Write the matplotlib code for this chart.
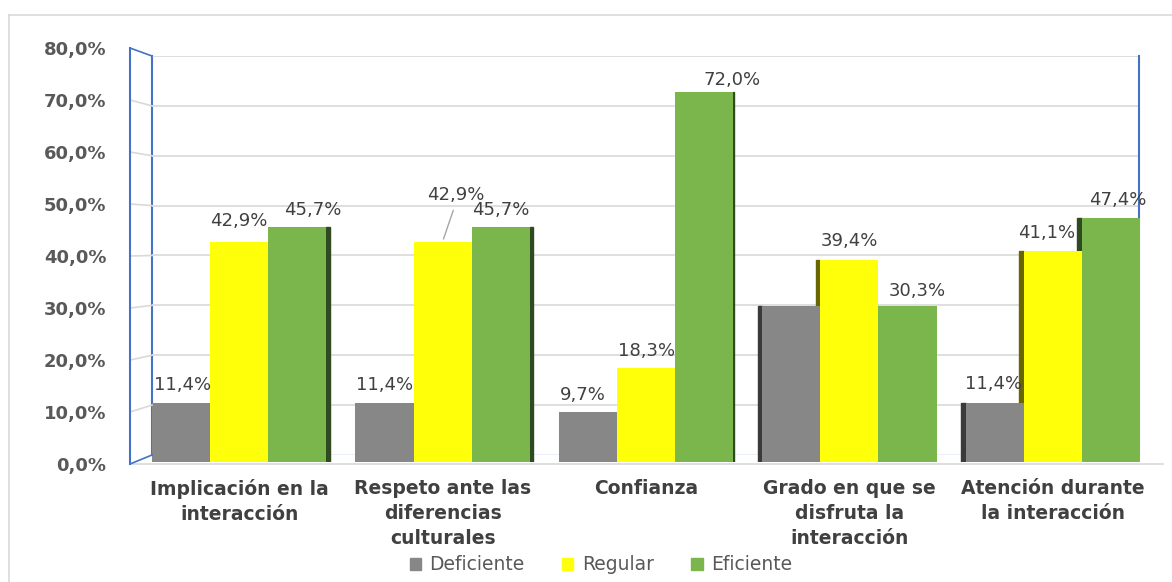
import numpy as np
import matplotlib.pyplot as plt
from matplotlib.patches import Patch, Rectangle
from matplotlib.lines import Line2D

categories = ["Implicación en la\ninteracción", "Respeto ante las\ndiferencias\nculturales",
              "Confianza", "Grado en que se\ndisfruta la\ninteracción",
              "Atención durante\nla interacción"]
series = ["Deficiente", "Regular", "Eficiente"]
deficiente = [11.4, 11.4, 9.7, 30.3, 11.4]
regular = [42.9, 42.9, 18.3, 39.4, 41.1]
eficiente = [45.7, 45.7, 72.0, 30.3, 47.4]
yticks = [0, 10, 20, 30, 40, 50, 60, 70, 80]

colors = ["#878787", "#FFFF0A", "#7AB64C"]
side_colors = ["#3a3a3a", "#676600", "#2f4a20"]
# which labels are shown (the gray bar of group 4 has none in the original)
show_label = [[True, True, True, False, True],
              [True] * 5,
              [True] * 5]
# label centre offsets in pixels (dx, dy above bar top)
offsets = [[(2, 18), (0, 18), (-5, 17), (0, 0), (-1, 19)],
           [(0, 21), (13, 47), (1, 17), (0, 19), (-6, 18)],
           [(15, 17), (0, 17), (28, 12), (10, 15), (7, 18)]]
side_px = [4, 3, 1, -4, -5]  # visible side of the 3d bars

W, H = 1172, 582
fig = plt.figure(figsize=(W / 100, H / 100), dpi=100)


def rect(l, t, r, b):
    return [l / W, 1 - b / H, (r - l) / W, (b - t) / H]


blue = "#4472C4"
grid = "#D9D9D9"

# back wall with gridlines
ax_back = fig.add_axes(rect(152, 56, 1139, 455))
ax_back.set_xlim(0, 1)
ax_back.set_ylim(0, 80)
for v in yticks[1:]:
    ax_back.axhline(v, color=grid, lw=1.2)
ax_back.axhline(0, color=blue, lw=1, alpha=0.6)
ax_back.axvline(1, color=blue, lw=1.5, clip_on=False)
ax_back.axis("off")

# front axis, only carries the tick labels
ax_front = fig.add_axes(rect(130, 48, 131, 464))
ax_front.set_ylim(0, 80)
ax_front.set_yticks(yticks)
ax_front.set_yticklabels([f"{v:.1f}%".replace(".", ",") for v in yticks],
                         fontsize=13, fontweight="bold", color="#595959")
ax_front.tick_params(axis="y", length=0, pad=17)
ax_front.set_xticks([])
for s in ax_front.spines.values():
    s.set_visible(False)
ax_front.patch.set_alpha(0)

# bars
ax = fig.add_axes(rect(152, 51, 1140, 462))
ax.patch.set_alpha(0)
x = np.arange(len(categories))
w = 58 / 203
ax.set_xlim(-1.5 * w, len(categories) - 1 + 1.5 * w)
ax.set_ylim(0, 80)
px = (len(categories) - 1 + 3 * w) / (1140 - 152)  # data units per pixel

for i, vals in enumerate([deficiente, regular, eficiente]):
    xs = x + (i - 1) * w
    for j, (xc, v) in enumerate(zip(xs, vals)):
        d = side_px[j] * px
        if d > 0:
            ax.add_patch(Rectangle((xc + w / 2, 0), d, v, color=side_colors[i], zorder=1))
        elif d < 0:
            ax.add_patch(Rectangle((xc - w / 2 + d, 0), -d, v, color=side_colors[i], zorder=1))
    ax.bar(xs, vals, width=w, color=colors[i], zorder=2, label=series[i])
    for j, (xc, v) in enumerate(zip(xs, vals)):
        if not show_label[i][j]:
            continue
        dx, dy = offsets[i][j]
        txt = f"{v:.1f}%".replace(".", ",")
        if i == 1 and j == 1:
            ax.annotate(txt, (xc, v), xytext=(dx * 0.72, dy * 0.72),
                        textcoords="offset points", ha="center", va="center",
                        fontsize=13, color="#404040", zorder=5,
                        arrowprops=dict(arrowstyle="-", color="#A6A6A6", lw=1,
                                        shrinkA=3, shrinkB=2, relpos=(0.5, 0)))
        else:
            ax.annotate(txt, (xc, v), xytext=(dx * 0.72, dy * 0.72),
                        textcoords="offset points", ha="center", va="center",
                        fontsize=13, color="#404040", zorder=5)

ax.set_xticks(x)
ax.set_xticklabels(categories, fontsize=13.5, fontweight="bold", color="#404040",
                   linespacing=1.42, va="top")
ax.tick_params(axis="x", length=0, pad=12)
ax.set_yticks([])
for s in ax.spines.values():
    s.set_visible(False)

# left wall and floor edges, from the two planes
to_fig = fig.transFigure.inverted()


def fpt(axis, xv, yv):
    return to_fig.transform(axis.transData.transform((xv, yv)))


for v in yticks:
    p1 = fpt(ax_front, 0, v)
    p2 = fpt(ax_back, 0, v)
    c = blue if v in (0, 80) else grid
    fig.add_artist(Line2D([p1[0], p2[0]], [p1[1], p2[1]], color=c, lw=1.2))
p1, p2 = fpt(ax_front, 0, 0), fpt(ax_front, 0, 80)
fig.add_artist(Line2D([p1[0], p2[0]], [p1[1], p2[1]], color=blue, lw=1.5))
p1, p2 = fpt(ax_back, 0, 0), fpt(ax_back, 0, 80)
fig.add_artist(Line2D([p1[0], p2[0]], [p1[1], p2[1]], color=blue, lw=1.5, zorder=0))
fy = 1 - 464 / H
fig.add_artist(Line2D([130 / W, 1163 / W], [fy, fy], color=grid, lw=1.2, zorder=0))

# chart border
fig.add_artist(Line2D([9 / W, 9 / W], [0, 1 - 15 / H], color=grid, lw=1.2))
fig.add_artist(Line2D([9 / W, 1], [1 - 15 / H, 1 - 15 / H], color=grid, lw=1.2))

handles = [Patch(color=c) for c in colors]
fig.legend(handles, series, loc="center", bbox_to_anchor=(601 / W, 1 - 565 / H),
           ncol=3, frameon=False, fontsize=13.5, handlelength=0.6, handleheight=0.6,
           handletextpad=0.45, columnspacing=2.0, labelcolor="#595959")

fig.savefig("out.png", dpi=100)
